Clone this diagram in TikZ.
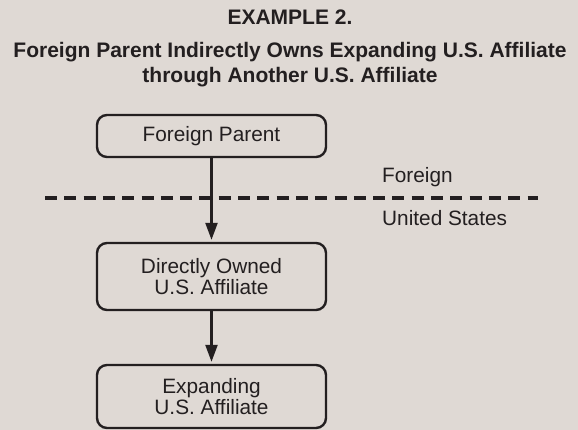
\documentclass[tikz,border=0pt]{standalone}
\usepackage{fontspec}
\setmainfont{Liberation Sans}
\usetikzlibrary{arrows.meta}
\definecolor{bg}{HTML}{DFD9D4}
\definecolor{ink}{HTML}{231F20}
\begin{document}
\begin{tikzpicture}[x=1pt,y=-1pt,
  box/.style={draw=ink,line width=2.4pt,rounded corners=10pt,minimum width=229pt,
    inner sep=0pt,align=center,text=ink,font=\fontsize{20.8}{21}\selectfont},
  lbl/.style={anchor=base west,inner sep=0pt,text=ink,font=\fontsize{20.8}{21}\selectfont},
  ttl/.style={anchor=base,inner sep=0pt,text=ink,font=\fontsize{21}{25}\selectfont\bfseries},
  flow/.style={draw=ink,line width=2.4pt,-{Triangle[length=17pt,width=12pt]},shorten >=2pt}]
\fill[bg] (0,0) rectangle (578,430);
\useasboundingbox (0,0) rectangle (578,430);
\node[ttl] (t1) at (290,25) {EXAMPLE 2.};
\node[ttl] (t2) at (290,58) {Foreign Parent Indirectly Owns Expanding U.S. Affiliate};
\node[ttl] (t3) at (290,83) {through Another U.S. Affiliate};
\node[box,minimum height=42pt] (fp) at (211.5,136) {Foreign Parent};
\node[box,minimum height=67pt] (do) at (211.5,276.5) {Directly Owned\\U.S. Affiliate};
\node[box,minimum height=63pt] (ex) at (211.5,396.5) {Expanding\\U.S. Affiliate};
\coordinate (dl) at (45,198);
\coordinate (dr) at (538,198);
\draw[ink,line width=3.2pt,dash pattern=on 12pt off 7.3pt] (dl) -- (dr);
\node[lbl] (lf) at (382,183) {Foreign};
\node[lbl] (lu) at (382,226) {United States};
\draw[flow] (fp) -- (do);
\draw[flow] (do) -- (ex);
\end{tikzpicture}
\end{document}
